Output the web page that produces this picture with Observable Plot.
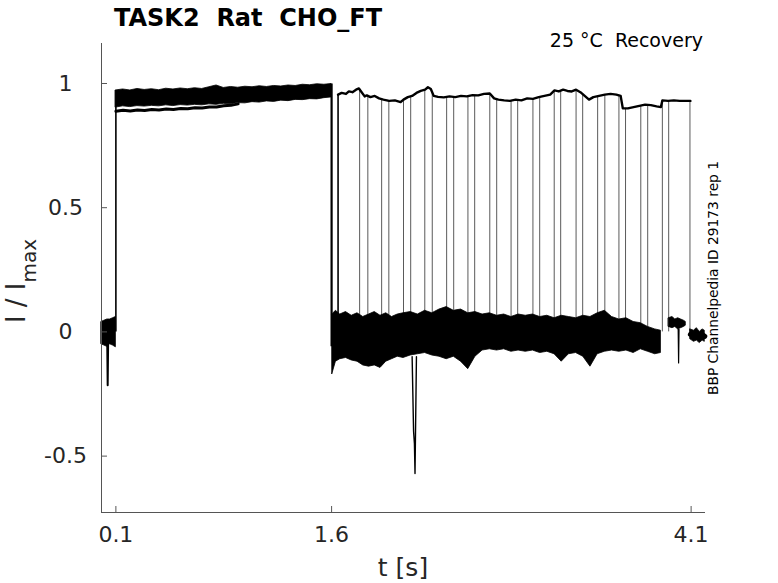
<!DOCTYPE html>
<html><head><meta charset="utf-8">
<script src="https://cdn.jsdelivr.net/npm/d3@7"></script>
<script src="https://cdn.jsdelivr.net/npm/@observablehq/plot@0.6"></script>
<style>html,body{margin:0;padding:0;background:#fff;} svg{display:block}</style>
</head><body><div id="chart"></div>
<script>
// ---- axes ----
const xTicks = [0.1, 1.6, 4.1];
const yTicks = [-0.5, 0, 0.5, 1];
const xDomain = [0, 4.2];
const yDomain = [-0.727, 1.161];

// ---- holding segment (0 - 0.1 s) envelope ----
const preT  = [0, 0.02, 0.04, 0.06, 0.08, 0.1];
const preHi = [0.040, 0.045, 0.050, 0.050, 0.055, 0.060];
const preLo = [-0.050, -0.055, -0.060, -0.050, -0.055, -0.062];
const preSpikeT = [0.040, 0.043, 0.046];
const preSpikeV = [-0.05, -0.215, -0.05];

// ---- conditioning pulse (0.1 - 1.6 s) envelope ----
const p1T  = [0.10,0.15,0.20,0.25,0.30,0.35,0.40,0.45,0.50,0.55,0.60,0.65,0.70,0.75,0.80,0.85,0.90,0.95,1.00,1.05,1.10,1.15,1.20,1.25,1.30,1.35,1.40,1.45,1.50,1.55,1.60];
const p1Hi = [0.972,0.976,0.972,0.978,0.974,0.977,0.973,0.979,0.976,0.980,0.977,0.981,0.978,0.985,0.992,0.982,0.986,0.983,0.987,0.985,0.989,0.986,0.990,0.988,0.992,0.990,0.995,0.993,0.997,0.995,0.998];
const p1Lo = [0.903,0.908,0.905,0.909,0.907,0.910,0.908,0.912,0.909,0.913,0.911,0.914,0.912,0.916,0.914,0.918,0.916,0.921,0.920,0.925,0.923,0.928,0.926,0.931,0.929,0.934,0.933,0.937,0.936,0.941,0.944];
const p1LowTraceT = [0.10,0.15,0.20,0.25,0.30,0.35,0.40,0.45,0.50,0.55,0.60,0.65,0.70,0.75,0.80,0.85,0.90,0.95];
const p1LowTraceV = [0.888,0.892,0.889,0.893,0.891,0.895,0.893,0.897,0.895,0.899,0.898,0.902,0.901,0.905,0.905,0.910,0.912,0.918];

// ---- recovery interval baseline (after 1.6 s) envelope ----
const recT  = [1.605,1.63,1.66,1.70,1.74,1.78,1.82,1.86,1.90,1.94,1.98,2.02,2.06,2.10,2.15,2.20,2.25,2.30,2.35,2.40,2.45,2.50,2.55,2.60,2.65,2.70,2.75,2.80,2.85,2.90,2.95,3.00,3.05,3.10,3.15,3.20,3.25,3.30,3.35,3.40,3.45,3.50,3.55,3.60,3.65,3.70,3.75,3.80,3.85,3.89];
const recHi = [0.070,0.085,0.070,0.080,0.065,0.075,0.060,0.070,0.080,0.065,0.075,0.060,0.070,0.075,0.080,0.070,0.085,0.075,0.090,0.100,0.085,0.090,0.075,0.080,0.070,0.075,0.065,0.070,0.060,0.070,0.065,0.070,0.060,0.065,0.055,0.065,0.060,0.055,0.065,0.060,0.075,0.085,0.060,0.050,0.055,0.040,0.035,0.020,0.010,0.005];
const recLo = [-0.170,-0.120,-0.110,-0.105,-0.115,-0.120,-0.135,-0.140,-0.135,-0.145,-0.120,-0.110,-0.100,-0.105,-0.095,-0.090,-0.085,-0.095,-0.100,-0.110,-0.100,-0.120,-0.150,-0.100,-0.075,-0.070,-0.075,-0.070,-0.080,-0.075,-0.080,-0.075,-0.085,-0.080,-0.090,-0.120,-0.090,-0.085,-0.100,-0.140,-0.090,-0.080,-0.075,-0.080,-0.075,-0.085,-0.070,-0.080,-0.090,-0.085];
const bigSpikeT = [2.160, 2.170, 2.176, 2.180, 2.190];
const bigSpikeV = [-0.10, -0.40, -0.45, -0.57, -0.10];

// ---- trailing pieces ----
const tailAT  = [3.945, 3.97, 3.99, 4.01, 4.03, 4.05, 4.063];
const tailAHi = [0.055, 0.060, 0.050, 0.055, 0.050, 0.045, 0.040];
const tailALo = [0.020, 0.015, 0.020, 0.010, 0.015, 0.020, 0.025];
const tailSpikeT = [4.010, 4.013, 4.016];
const tailSpikeV = [0.01, -0.125, 0.01];
const tailBT  = [4.095, 4.12, 4.14, 4.16, 4.18, 4.195];
const tailBHi = [0.010, 0.005, 0.015, 0.000, 0.010, 0.005];
const tailBLo = [-0.030, -0.040, -0.035, -0.045, -0.035, -0.040];
const tailBMidV = [-0.010, -0.018, -0.010, -0.022, -0.012, -0.018];

// ---- test pulse plateau ----
const plT = [1.645,1.67,1.70,1.72,1.745,1.77,1.79,1.80,1.83,1.845,1.87,1.90,1.93,1.96,2.00,2.04,2.08,2.10,2.13,2.16,2.19,2.22,2.25,2.27,2.29,2.31,2.34,2.38,2.42,2.46,2.50,2.54,2.58,2.62,2.66,2.70,2.73,2.76,2.80,2.84,2.88,2.92,2.96,3.00,3.04,3.08,3.12,3.15,3.18,3.21,3.24,3.27,3.30,3.33,3.36,3.39,3.42,3.46,3.50,3.54,3.58,3.61,3.625,3.66,3.70,3.74,3.78,3.82,3.86,3.89,3.90,3.94,3.98,4.02,4.06,4.095];
const plV = [0.955,0.962,0.958,0.968,0.965,0.975,0.980,0.972,0.948,0.952,0.945,0.950,0.940,0.935,0.930,0.932,0.925,0.935,0.945,0.950,0.962,0.970,0.975,0.985,0.978,0.950,0.946,0.944,0.948,0.945,0.950,0.948,0.953,0.952,0.958,0.960,0.940,0.935,0.932,0.930,0.935,0.932,0.940,0.938,0.945,0.950,0.955,0.972,0.968,0.975,0.970,0.968,0.975,0.965,0.950,0.935,0.945,0.950,0.955,0.958,0.955,0.950,0.900,0.900,0.905,0.910,0.915,0.913,0.908,0.905,0.932,0.930,0.932,0.930,0.930,0.930];

// ---- step times ----
const onsetT = 0.1;
const offsetT = 1.6;
const riseT = [1.645,1.795,1.948,2.100,2.248,2.400,2.548,2.700,2.848,3.000,3.148,3.300,3.450,3.598,3.750,3.900];
const fallT = [1.852,1.998,2.150,2.300,2.449,2.595,2.748,2.894,3.047,3.193,3.346,3.500,3.644,3.798,3.944,4.092];

// build tables
const zip3 = (t, a, b) => t.map((d, i) => ({t: d, lo: a[i], hi: b[i]}));
const zip2 = (t, v) => t.map((d, i) => ({t: d, v: v[i]}));
const pre = zip3(preT, preLo, preHi);
const p1 = zip3(p1T, p1Lo, p1Hi);
const rec = zip3(recT, recLo, recHi);
const tA = zip3(tailAT, tailALo, tailAHi);
const tB = zip3(tailBT, tailBLo, tailBHi);
const plateau = zip2(plT, plV);
const plateauAt = t => {
  const i = Math.max(1, Math.min(plT.length - 1, d3.bisectLeft(plT, t)));
  const t0 = plT[i-1], t1 = plT[i];
  const f = Math.max(0, Math.min(1, (t - t0) / (t1 - t0)));
  return plV[i-1] + f * (plV[i] - plV[i-1]);
};

const band = (data) => Plot.areaY(data, {x: "t", y1: "lo", y2: "hi", fill: "black", stroke: "black", strokeWidth: 0.8});

const svg = Plot.plot({
  width: 778, height: 583,
  marginLeft: 101, marginRight: 73, marginTop: 43, marginBottom: 71,
  style: {fontFamily: "DejaVu Sans", fontSize: "22px", color: "#262626", background: "#fff"},
  x: {domain: xDomain},
  y: {domain: yDomain},
  marks: [
    Plot.ruleX(riseT.slice(1), {x: d => d, y1: 0, y2: d => plateauAt(d), stroke: "#5a5a5a", strokeWidth: 1}),
    Plot.ruleX(fallT, {x: d => d, y1: 0, y2: d => plateauAt(d), stroke: "#5a5a5a", strokeWidth: 1}),
    Plot.ruleX([riseT[0]], {x: d => d, y1: 0, y2: d => plateauAt(d), stroke: "black", strokeWidth: 1.6}),
    Plot.ruleX([onsetT], {x: d => d, y1: 0, y2: p1Hi[0], stroke: "black", strokeWidth: 1.6}),
    Plot.ruleX([offsetT], {x: d => d, y1: -0.06, y2: p1Hi[p1Hi.length - 1], stroke: "black", strokeWidth: 2.2}),
    band(pre), band(p1), band(rec), band(tA), band(tB),
    Plot.line(zip2(tailBT, tailBMidV), {x: "t", y: "v", stroke: "black", strokeWidth: 5}),
    Plot.line(zip2(p1LowTraceT, p1LowTraceV), {x: "t", y: "v", stroke: "black", strokeWidth: 3}),
    Plot.line(zip2(preSpikeT, preSpikeV), {x: "t", y: "v", stroke: "black", strokeWidth: 2}),
    Plot.line(zip2(bigSpikeT, bigSpikeV), {x: "t", y: "v", stroke: "black", strokeWidth: 1.4}),
    Plot.line(zip2(tailSpikeT, tailSpikeV), {x: "t", y: "v", stroke: "black", strokeWidth: 1.2}),
    Plot.line(plateau, {x: "t", y: "v", stroke: "black", strokeWidth: 2.4}),
    Plot.ruleX([xDomain[0]], {stroke: "#555", strokeWidth: 1}),
    Plot.ruleY([yDomain[0]], {stroke: "#555", strokeWidth: 1}),
    Plot.tickX(xTicks, {x: d => d, insetTop: 463, stroke: "#555", strokeWidth: 1}),
    Plot.tickY(yTicks, {y: d => d, insetRight: 598, stroke: "#555", strokeWidth: 1}),
    Plot.axisX(xTicks, {tickSize: 0, tickPadding: 14, label: null, tickFormat: d => String(d), fontSize: 22}),
    Plot.axisY(yTicks, {tickSize: 0, tickPadding: 36, textAnchor: "middle", label: null, tickFormat: d => String(d), fontSize: 22})
  ]
});

const s = d3.select(svg);
s.append("text").attr("x", 114).attr("y", 26).attr("text-anchor", "start")
  .attr("font-family", "DejaVu Sans").attr("font-weight", "bold").attr("font-size", 24)
  .attr("fill", "#000").style("white-space", "pre").text("TASK2  Rat  CHO_FT");
s.append("text").attr("x", 703).attr("y", 47).attr("text-anchor", "end")
  .attr("font-family", "DejaVu Sans").attr("font-size", 19)
  .attr("fill", "#000").style("white-space", "pre").text("25 °C  Recovery");
s.append("text").attr("transform", "translate(718,278) rotate(-90)").attr("text-anchor", "middle")
  .attr("font-family", "DejaVu Sans").attr("font-size", 13.8)
  .attr("fill", "#000").text("BBP Channelpedia ID 29173 rep 1");
const yl = s.append("text").attr("transform", "translate(25,281) rotate(-90)").attr("text-anchor", "middle")
  .attr("font-family", "DejaVu Sans").attr("font-size", 26).attr("fill", "#262626").style("white-space", "pre");
yl.append("tspan").text("I / I");
yl.append("tspan").attr("font-size", 20).attr("dy", 11).text("max");
s.append("text").attr("x", 403).attr("y", 576).attr("text-anchor", "middle")
  .attr("font-family", "DejaVu Sans").attr("font-size", 25).attr("fill", "#262626").text("t [s]");

document.getElementById("chart").appendChild(svg);
</script>
</body></html>
